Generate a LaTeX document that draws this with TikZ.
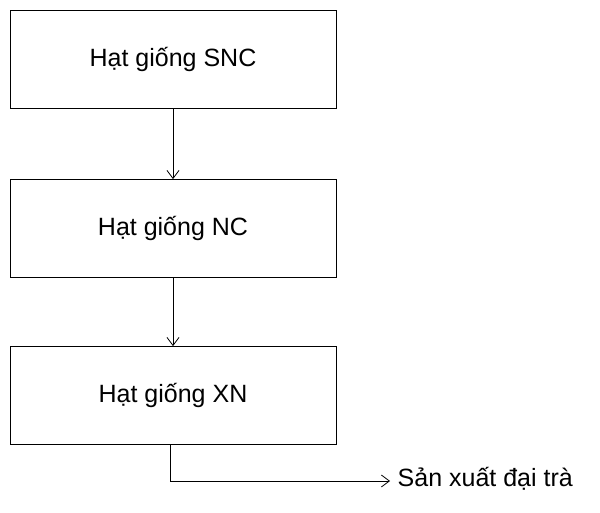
\documentclass[tikz,border=0pt]{standalone}
\usepackage{fontspec}
\setmainfont{Liberation Sans}
\usetikzlibrary{positioning,arrows.meta}
\tikzstyle{block} = [draw, rectangle, minimum height=98pt, minimum width=326pt,
    font=\fontsize{25}{28}\selectfont]
\tikzstyle{output} = [coordinate]
\begin{document}
\begin{tikzpicture}[x=1pt,y=-1pt,>={Straight Barb[length=8pt,width=12pt]},line width=0.8pt]
    \useasboundingbox (0,0) rectangle (600,513);
    % the three blocks
    \node[block] at (173,59) (snc) {Hạt giống SNC};
    \node[block] at (173,228.5) (nc) {Hạt giống NC};
    \node[block] at (173,395.5) (xn) {Hạt giống XN};
    \draw [->] (snc) -- (nc);
    \draw [->] (nc) -- (xn);

    % output line
    \node [output] at (170,481) (corner) {};
    \node [output] at (390,481) (output) {};
    \node [anchor=west, font=\fontsize{25}{28}\selectfont] at (394,479) (label) {Sản xuất đại trà};
    \draw (xn.south -| corner) -- (corner);
    \draw [->] (corner) -- (output);
\end{tikzpicture}
\end{document}
